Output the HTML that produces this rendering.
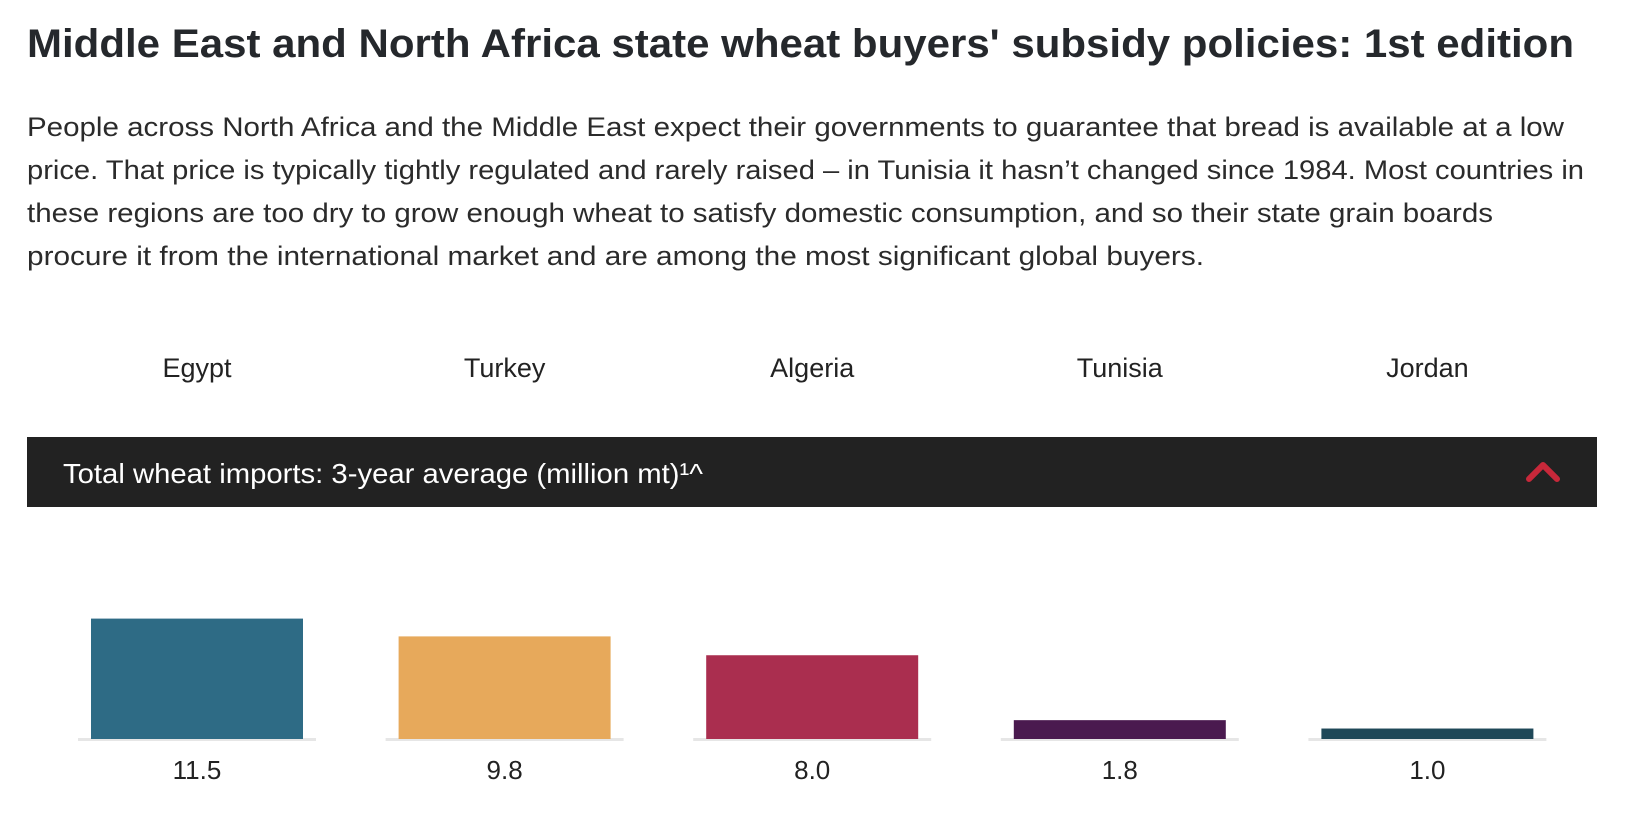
<!DOCTYPE html>
<html><head><meta charset="utf-8">
<style>
html,body{margin:0;padding:0;background:#fff;width:1638px;height:826px;overflow:hidden}
svg{display:block;font-family:"Liberation Sans",sans-serif}
</style></head>
<body>
<svg width="1638" height="826" viewBox="0 0 1638 826">
<text x="27" y="57" font-size="40" font-weight="bold" fill="#25282c" textLength="1547" lengthAdjust="spacingAndGlyphs">Middle East and North Africa state wheat buyers' subsidy policies: 1st edition</text>
<g font-size="27" fill="#2b2b2b">
<text x="27" y="136" textLength="1537" lengthAdjust="spacingAndGlyphs">People across North Africa and the Middle East expect their governments to guarantee that bread is available at a low</text>
<text x="27" y="179" textLength="1557" lengthAdjust="spacingAndGlyphs">price. That price is typically tightly regulated and rarely raised – in Tunisia it hasn’t changed since 1984. Most countries in</text>
<text x="27" y="222" textLength="1466" lengthAdjust="spacingAndGlyphs">these regions are too dry to grow enough wheat to satisfy domestic consumption, and so their state grain boards</text>
<text x="27" y="265" textLength="1177" lengthAdjust="spacingAndGlyphs">procure it from the international market and are among the most significant global buyers.</text>
</g>
<g id="countries"></g>
<rect x="27" y="437" width="1570" height="70" fill="#222"/>
<text x="63" y="483" font-size="28" fill="#fff" textLength="640" lengthAdjust="spacingAndGlyphs">Total wheat imports: 3-year average (million mt)¹^</text>
<polyline points="1529,479 1543,465 1557,479" fill="none" stroke="#c8283a" stroke-width="6" stroke-linecap="round" stroke-linejoin="round"/>
<g id="bars"></g>
</svg>
<script>
const countries = ["Egypt","Turkey","Algeria","Tunisia","Jordan"];
const values = [11.5, 9.8, 8.0, 1.8, 1.0];
const valueLabels = ["11.5","9.8","8.0","1.8","1.0"];
const colors = ["#2e6b85","#e7a95b","#aa2e4f","#4a1a4f","#1f4858"];
const NS = "http://www.w3.org/2000/svg";
const baseY = 739, pxPerUnit = 10.47;
const firstCenter = 197, colW = 307.6;
function yScale(v){ return baseY - v * pxPerUnit; }
function colCenter(i){ return firstCenter + colW * i; }
const cg = document.getElementById('countries');
const bg = document.getElementById('bars');
countries.forEach((c, i) => {
  const cx = colCenter(i);
  const t = document.createElementNS(NS, 'text');
  
  
  t.setAttribute('x', cx); t.setAttribute('y', 377);
  t.setAttribute('text-anchor', 'middle'); t.setAttribute('font-size', '27'); t.setAttribute('fill', '#222');
  t.textContent = c; cg.appendChild(t);
  const base = document.createElementNS(NS, 'rect');
  
  
  base.setAttribute('x', cx - 119); base.setAttribute('y', baseY - 1);
  base.setAttribute('width', 238); base.setAttribute('height', 3); base.setAttribute('fill', '#e6e6e6');
  bg.appendChild(base);
  const r = document.createElementNS(NS, 'rect');
  
  
  const y = yScale(values[i]);
  r.setAttribute('x', cx - 106); r.setAttribute('y', y);
  r.setAttribute('width', 212); r.setAttribute('height', baseY - y);
  r.setAttribute('fill', colors[i]);
  bg.appendChild(r);
  const v = document.createElementNS(NS, 'text');
  
  
  v.setAttribute('x', cx); v.setAttribute('y', 779);
  v.setAttribute('text-anchor', 'middle'); v.setAttribute('font-size', '26'); v.setAttribute('fill', '#222');
  v.textContent = valueLabels[i]; bg.appendChild(v);
});
</script>
</body></html>
